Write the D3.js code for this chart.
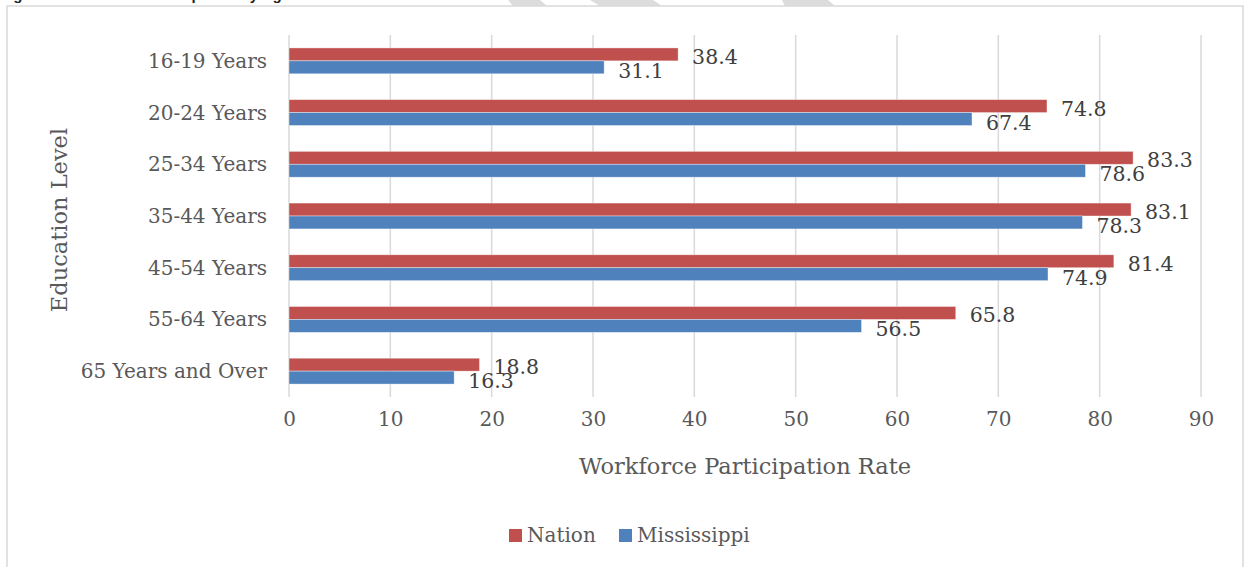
<!DOCTYPE html>
<html>
<head>
<meta charset="utf-8">
<script src="https://cdn.jsdelivr.net/npm/d3@7"></script>
<style>
  html, body { margin: 0; padding: 0; background: #fff; }
  svg { display: block; }
  text { font-family: "DejaVu Serif", serif; }
</style>
</head>
<body>
<svg id="chart" width="1244" height="567"></svg>
<script>
// ---- data ----
const categories = ["16-19 Years", "20-24 Years", "25-34 Years", "35-44 Years", "45-54 Years", "55-64 Years", "65 Years and Over"];
const nationValues = [38.4, 74.8, 83.3, 83.1, 81.4, 65.8, 18.8];
const mississippiValues = [31.1, 67.4, 78.6, 78.3, 74.9, 56.5, 16.3];
const seriesNames = ["Nation", "Mississippi"];
const seriesColors = ["#C0504D", "#4F81BD"];
const xTicks = [0, 10, 20, 30, 40, 50, 60, 70, 80, 90];
const xTitle = "Workforce Participation Rate";
const yTitle = "Education Level";
const figTitle = "Figure 9: Workforce Participation by Age";

// ---- layout ----
const svg = d3.select("#chart");
const plot = { left: 289, right: 1201, top: 35, bottom: 397 };

const x = d3.scaleLinear().domain([0, 90]).range([plot.left, plot.right]);
const y = d3.scaleBand().domain(categories).range([plot.top, plot.bottom]).padding(0);
const barH = y.bandwidth() * 0.25;

// cropped title & watermark fragments at the very top
svg.append("text").attr("x", 0).attr("y", 0)
  .style("font-family", "'Liberation Sans', sans-serif").style("font-weight", "bold")
  .style("font-size", "15px").attr("fill", "#222").text(figTitle);

const wm = [
  [[508,0],[540,0],[547,6],[513,6]],
  [[590,0],[653,0],[662,6],[600,6]],
  [[782,0],[828,0],[835,6],[785,6]]
];
svg.append("g").selectAll("polygon").data(wm).join("polygon")
  .attr("points", d => d.map(p => p.join(",")).join(" "))
  .attr("fill", "#dcdcdc");

// chart border
svg.append("rect").attr("x", 7).attr("y", 6).attr("width", 1236).attr("height", 600)
  .attr("fill", "#fff").attr("stroke", "#d9d9d9").attr("stroke-width", 1.5);

// gridlines
svg.append("g").selectAll("line").data(xTicks).join("line")
  .attr("x1", d => x(d)).attr("x2", d => x(d))
  .attr("y1", plot.top).attr("y2", plot.bottom)
  .attr("stroke", "#d9d9d9").attr("stroke-width", 1.5);

// x axis tick labels (via axis generator)
const xAxis = d3.axisBottom(x).tickValues(xTicks).tickSize(0).tickPadding(0).tickFormat(d3.format("d"));
const gx = svg.append("g").attr("transform", `translate(0,${plot.bottom + 22})`).call(xAxis);
gx.select(".domain").remove();
gx.selectAll("text").attr("fill", "#595959").style("font-size", "20px")
  .style("font-family", "'DejaVu Serif', serif").attr("dy", "0.35em");

// y axis category labels
const yAxis = d3.axisLeft(y).tickSize(0).tickPadding(0);
const gy = svg.append("g").attr("transform", `translate(${plot.left - 22},0)`).call(yAxis);
gy.select(".domain").remove();
gy.selectAll("text").attr("fill", "#595959").style("font-size", "20px")
  .style("font-family", "'DejaVu Serif', serif").attr("dy", "0.35em");

// bars
const seriesData = [nationValues, mississippiValues];
seriesData.forEach((vals, si) => {
  const g = svg.append("g");
  g.selectAll("rect").data(vals).join("rect")
    .attr("x", x(0))
    .attr("y", (d, i) => y(categories[i]) + y.bandwidth() / 2 - (si === 0 ? barH : 0))
    .attr("width", d => x(d) - x(0))
    .attr("height", barH)
    .attr("fill", seriesColors[si])
    .attr("stroke", "#fff").attr("stroke-opacity", 0.5).attr("stroke-width", 0.75);
  g.selectAll("text").data(vals).join("text")
    .attr("x", d => x(d) + 14)
    .attr("y", (d, i) => y(categories[i]) + y.bandwidth() / 2 + (si === 0 ? 3 : 17))
    .attr("fill", "#404040").style("font-size", "20.5px")
    .text(d => d.toFixed(1));
});

// axis titles
svg.append("text").attr("x", (plot.left + plot.right) / 2).attr("y", 474)
  .attr("text-anchor", "middle").attr("fill", "#595959").style("font-size", "22.5px").text(xTitle);
svg.append("text").attr("transform", `translate(67,220) rotate(-90)`)
  .attr("text-anchor", "middle").attr("fill", "#595959").style("font-size", "22.5px").text(yTitle);

// legend
const legend = svg.append("g");
const legendItems = [{ x: 509 }, { x: 619 }];
seriesNames.forEach((name, i) => {
  legend.append("rect").attr("x", legendItems[i].x).attr("y", 529)
    .attr("width", 13).attr("height", 13).attr("fill", seriesColors[i]);
  legend.append("text").attr("x", legendItems[i].x + 18).attr("y", 542)
    .attr("fill", "#595959").style("font-size", "20px").text(name);
});
</script>
</body>
</html>
